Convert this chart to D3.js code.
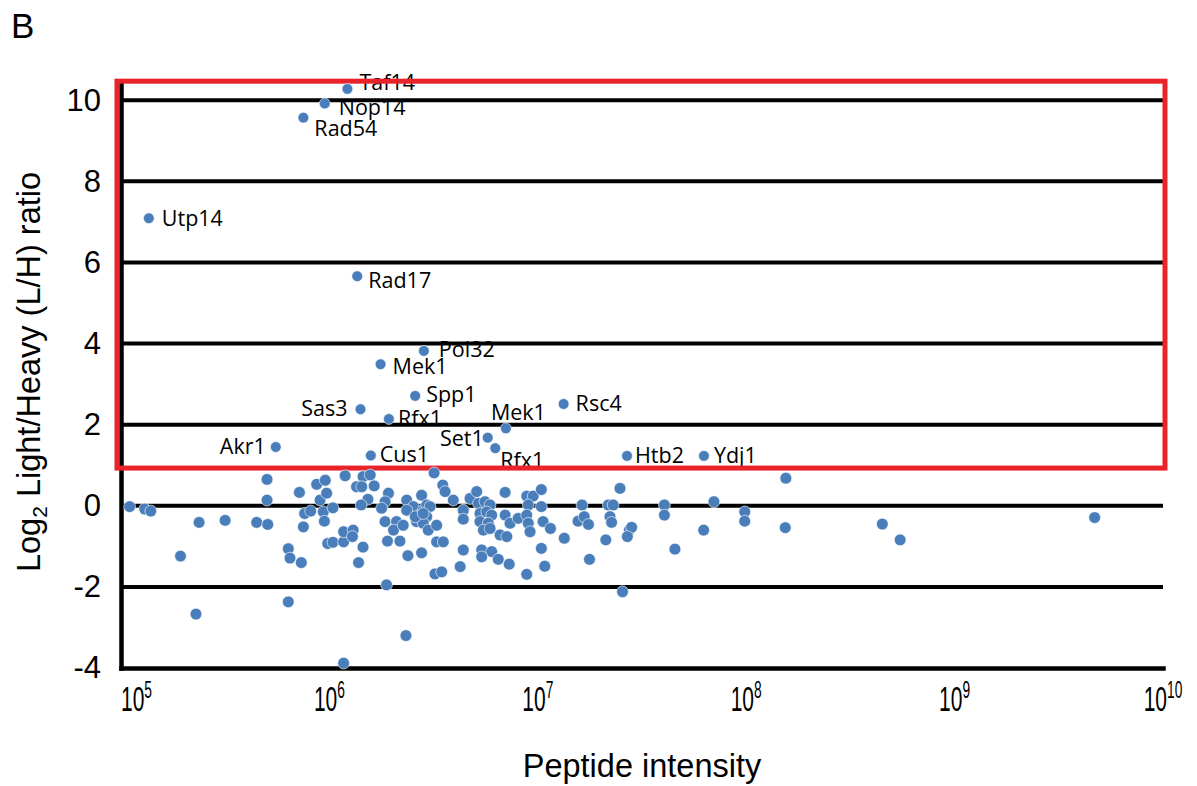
<!DOCTYPE html>
<html>
<head>
	<meta charset="utf-8">
	<title>L/H ratio vs peptide intensity</title>
	<style>
		body { margin: 0; background: #fff; }
		svg { display: block; }
		.tick-y text { font-family: 'Liberation Sans', Arial, sans-serif; font-size: 31px; fill: #000; }
		.tick-x { font-family: 'Liberation Sans', Arial, sans-serif; font-size: 35px; }
		.axis-title { font-family: 'Liberation Sans', Arial, sans-serif; font-size: 32.5px; }
		.letter { font-family: 'Liberation Sans', Arial, sans-serif; font-size: 35px; }
		.protein { font-family: 'Open Sans', sans-serif; font-size: 21.5px; }
	</style>
</head>
<body>
	<svg width="1197" height="786"></svg>
<script src="https://cdn.jsdelivr.net/npm/d3@7"></script>
<script>

	// all quantified peptides (intensity, log2 L/H)
	const intensity = [
		1.10e5, 1.30e5, 1.39e5, 2.37e5, 3.16e5, 4.48e5, 5.06e5, 5.02e5, 5.02e5, 1.93e5,
		2.29e5, 6.35e5, 6.47e5, 7.33e5, 6.35e5, 7.18e5, 7.50e5, 7.61e5, 8.13e5, 8.69e5,
		9.55e5, 9.02e5, 9.70e5, 9.35e5, 9.46e5, 1.04e6, 9.82e5, 1.04e6, 1.17e6, 1.17e6,
		1.30e6, 1.29e6, 1.19e6, 1.35e6, 1.45e6, 1.57e6, 1.43e6, 1.64e6, 1.53e6, 1.42e6,
		1.45e6, 1.38e6, 1.17e6, 1.88e6, 1.92e6, 1.85e6, 1.78e6, 1.85e6, 2.10e6, 2.03e6,
		1.90e6, 2.18e6, 2.26e6, 2.38e6, 2.77e6, 2.35e6, 2.53e6, 2.77e6, 2.33e6, 2.82e6,
		2.93e6, 3.04e6, 2.72e6, 2.93e6, 2.62e6, 2.82e6, 2.98e6, 3.27e6, 2.35e6, 2.58e6,
		3.18e6, 3.50e6, 3.59e6, 3.93e6, 2.82e6, 3.27e6, 3.52e6, 4.39e6, 4.39e6, 4.73e6,
		5.09e6, 5.19e6, 5.58e6, 5.90e6, 5.28e6, 5.69e6, 6.01e6, 5.28e6, 5.79e6, 5.48e6,
		5.90e6, 6.59e6, 7.10e6, 6.97e6, 6.97e6, 7.36e6, 8.05e6, 8.85e6, 9.51e6, 1.04e7,
		9.00e6, 1.04e7, 8.85e6, 9.00e6, 9.18e6, 1.06e7, 1.15e7, 1.34e7, 1.56e7, 4.39e6,
		5.38e6, 6.01e6, 5.38e6, 6.46e6, 7.29e6, 1.04e7, 1.08e7, 8.85e6, 4.24e6, 3.21e6,
		3.46e6, 1.63e7, 1.67e7, 1.75e7, 1.77e7, 2.12e7, 2.18e7, 2.30e7, 2.22e7, 2.26e7,
		2.48e7, 2.75e7, 2.82e7, 2.69e7, 2.55e7, 4.05e7, 4.05e7, 4.55e7, 1.55e8, 7.00e7,
		6.25e7, 9.84e7, 9.84e7, 1.54e8, 4.50e8, 5.48e8, 4.70e9
	]
	const ratio = [
		-0.02, -0.08, -0.13, -0.41, -0.36, -0.41, -0.46, 0.65, 0.14, -1.24,
		-2.67, -1.06, -1.29, -1.40, -2.37, 0.33, -0.52, -0.19, -0.13, 0.53,
		0.63, 0.14, 0.31, -0.15, -0.38, -0.05, -0.93, -0.90, -0.89, -0.64,
		-0.60, -0.76, 0.74, 0.47, 0.72, 0.76, 0.47, 0.49, 0.16, 0.02,
		-1.02, -1.40, -3.88, -1.95, 0.31, 0.10, -0.06, -0.39, -0.39, -0.60,
		-0.87, -0.87, -0.48, -1.23, 0.26, 0.14, -0.02, -1.16, -3.20, -0.11,
		0.02, -0.02, -0.23, -0.27, -0.39, -0.43, -0.60, -0.48, -0.11, -0.27,
		0.81, 0.51, 0.35, 0.14, -0.19, -0.89, -0.89, -0.11, -0.33, 0.18,
		0.35, 0.06, 0.10, 0.02, -0.19, -0.15, -0.23, -0.39, -0.43, -0.60,
		-0.56, -0.72, -0.76, -0.23, 0.33, -0.43, -0.31, 0.24, 0.24, 0.40,
		0.02, -0.02, -0.23, -0.43, -0.64, -0.39, -0.56, -0.80, -0.38, -1.09,
		-1.09, -1.13, -1.26, -1.32, -1.44, -1.05, -1.49, -1.69, -1.50, -1.68,
		-1.63, 0.02, -0.27, -0.46, -1.32, -0.84, 0.02, 0.02, -0.27, -0.41,
		0.43, -0.60, -0.53, -0.76, -2.12, 0.02, -0.23, -1.07, 0.68, 0.10,
		-0.60, -0.15, -0.38, -0.54, -0.45, -0.84, -0.29
	]

	// enriched (named) hits
	const hitNames = ['Taf14', 'Nop14', 'Rad54', 'Utp14', 'Rad17', 'Pol32', 'Mek1', 'Spp1', 'Sas3',
		'Rfx1', 'Akr1', 'Cus1', 'Set1', 'Mek1', 'Rfx1', 'Rsc4', 'Htb2', 'Ydj1']
	const hitIntensity = [1.22e6, 9.5e5, 7.5e5, 1.36e5, 1.36e6, 2.84e6, 1.76e6, 2.58e6, 1.41e6,
		1.93e6, 5.53e5, 1.58e6, 5.75e6, 7.03e6, 6.25e6, 1.33e7, 2.68e7, 6.27e7]
	const hitRatio = [10.28, 9.92, 9.57, 7.09, 5.66, 3.82, 3.49, 2.71, 2.38,
		2.14, 1.45, 1.24, 1.68, 1.91, 1.42, 2.51, 1.23, 1.23]

	const xTicks = [1e5, 1e6, 1e7, 1e8, 1e9, 1e10]
	const yTicks = [-4, -2, 0, 2, 4, 6, 8, 10]

	// label nudges (dx, dy, anchor), same order as hitNames
	const labelPos = [
		[12, 1, 'start'], [14, 12, 'start'], [11, 18, 'start'], [13, 8, 'start'], [11, 12, 'start'],
		[15, 6, 'start'], [12, 10, 'start'], [11, 6, 'start'], [-13, 7, 'end'], [9, 7, 'start'],
		[-10, 7, 'end'], [9, 7, 'start'], [-4, 8, 'end'], [-15, -8, 'start'], [5, 20, 'start'],
		[12, 7, 'start'], [8, 7, 'start'], [10, 7, 'start']
	]

	const dotColor = '#4a7ebb'
	const boxColor = '#e8232a'

	const svg = d3.select('svg')

	const x = d3.scaleLog()
		.domain([1e5, 1e10])
		.range([121, 1163])

	const y = d3.scaleLinear()
		.domain([-4, 10.45])
		.range([668, 82])

	// panel letter
	svg.append('text')
		.attr('class', 'letter')
		.attr('x', 11)
		.attr('y', 38)
		.text('B')

	// hit labels go under the gridlines, like in the figure
	svg.append('g')
		.selectAll('text')
		.data(hitNames)
		.join('text')
		.attr('class', 'protein')
		.attr('x', (d, i) => x(hitIntensity[i]) + labelPos[i][0])
		.attr('y', (d, i) => y(hitRatio[i]) + labelPos[i][1])
		.attr('text-anchor', (d, i) => labelPos[i][2])
		.text(d => d)

	// horizontal gridlines
	svg.append('g')
		.selectAll('line')
		.data(yTicks.filter(d => d > -4))
		.join('line')
		.attr('x1', x.range()[0])
		.attr('x2', x.range()[1])
		.attr('y1', d => y(d))
		.attr('y2', d => y(d))
		.attr('stroke', '#000')
		.attr('stroke-width', 4)

	// y axis
	let yAxis = svg.append('g')
		.attr('class', 'tick-y')
		.attr('transform', `translate(${x.range()[0]},0)`)
		.call(d3.axisLeft(y).tickValues(yTicks).tickSize(0).tickSizeOuter(0).tickPadding(20)
			.tickFormat(d => String(d)))
	yAxis.select('.domain')
		.attr('stroke', '#000')
		.attr('stroke-width', 4.5)
		.attr('stroke-linecap', 'square')
	yAxis.selectAll('.tick text')
		.attr('font-family', null)
		.attr('font-size', null)

	// x axis (labels drawn by hand for the superscripts)
	let xAxis = svg.append('g')
		.attr('transform', `translate(0,${y(-4)})`)
		.call(d3.axisBottom(x).tickValues(xTicks).tickSize(0).tickSizeOuter(0).tickFormat(''))
	xAxis.select('.domain')
		.attr('stroke', '#000')
		.attr('stroke-width', 4.5)
		.attr('stroke-linecap', 'square')

	let xLab = svg.append('g')
		.selectAll('text')
		.data(xTicks)
		.join('text')
		.attr('class', 'tick-x')
		.attr('text-anchor', (d, i) => i === 0 ? 'start' : 'middle')
		.attr('transform', d => `translate(${x(d)},711) scale(0.6,1)`)
	xLab.append('tspan').text('10')
	xLab.append('tspan')
		.attr('font-size', 23)
		.attr('dy', -13)
		.text(d => Math.round(Math.log10(d)))

	// axis titles
	svg.append('text')
		.attr('class', 'axis-title')
		.attr('text-anchor', 'middle')
		.attr('x', (x.range()[0] + x.range()[1]) / 2)
		.attr('y', 777)
		.text('Peptide intensity')

	let yTitle = svg.append('text')
		.attr('class', 'axis-title')
		.attr('text-anchor', 'middle')
		.attr('transform', 'translate(40,372) rotate(-90)')
	yTitle.append('tspan').text('Log')
	yTitle.append('tspan').attr('font-size', 21).attr('dy', 7).text('2')
	yTitle.append('tspan').attr('dy', -7).text(' Light/Heavy (L/H) ratio')

	// red box around the enriched region
	svg.append('rect')
		.attr('x', x.range()[0] - 4)
		.attr('y', y(10.47))
		.attr('width', x.range()[1] - x.range()[0] + 6)
		.attr('height', y(0.93) - y(10.47))
		.attr('fill', 'none')
		.attr('stroke', boxColor)
		.attr('stroke-width', 5)

	// dots
	svg.append('g')
		.selectAll('circle')
		.data(intensity)
		.join('circle')
		.attr('cx', d => x(d))
		.attr('cy', (d, i) => y(ratio[i]))
		.attr('r', 5.9)
		.attr('fill', dotColor)
		.attr('stroke', '#fff')
		.attr('stroke-width', 0.6)

	svg.append('g')
		.selectAll('circle')
		.data(hitIntensity)
		.join('circle')
		.attr('cx', d => x(d))
		.attr('cy', (d, i) => y(hitRatio[i]))
		.attr('r', 5.4)
		.attr('fill', dotColor)
		.attr('stroke', '#fff')
		.attr('stroke-width', 0.6)

</script>
</body>
</html>
